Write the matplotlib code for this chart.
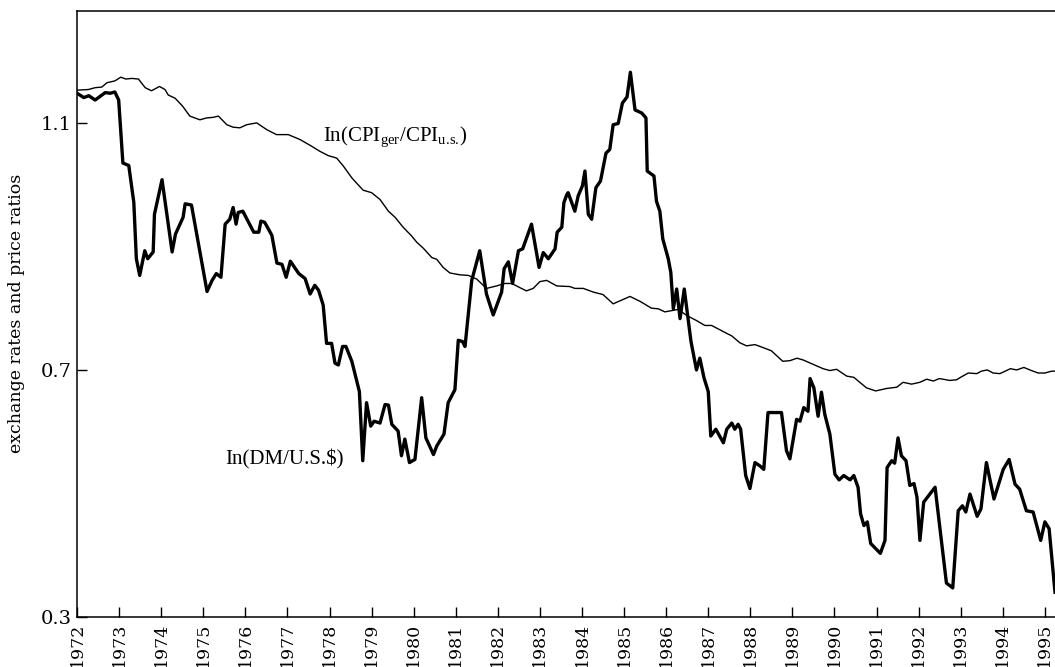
# log exchange rate DM/US$ vs log CPI ratio, 1972-1995
import matplotlib
matplotlib.use("Agg")
from matplotlib import pyplot as plt

# ln(DM/U.S.$) (decimal year, value)
dm_years = [1972.00, 1972.16, 1972.28, 1972.43, 1972.67, 1972.79, 1972.90, 1972.99,
            1973.09, 1973.23, 1973.35, 1973.41, 1973.49, 1973.61, 1973.68, 1973.81,
            1973.84, 1974.02, 1974.26, 1974.34, 1974.52, 1974.57, 1974.72, 1975.09,
            1975.21, 1975.31, 1975.42, 1975.52, 1975.63, 1975.71, 1975.78, 1975.83,
            1975.94, 1976.20, 1976.32, 1976.37, 1976.46, 1976.63, 1976.75, 1976.87,
            1976.97, 1977.07, 1977.27, 1977.42, 1977.54, 1977.65, 1977.74, 1977.85,
            1977.93, 1978.05, 1978.13, 1978.21, 1978.31, 1978.39, 1978.53, 1978.63,
            1978.71, 1978.79, 1978.88, 1978.98, 1979.06, 1979.20, 1979.32, 1979.40,
            1979.48, 1979.63, 1979.71, 1979.79, 1979.90, 1980.03, 1980.19, 1980.29,
            1980.47, 1980.55, 1980.72, 1980.82, 1980.98, 1981.06, 1981.16, 1981.22,
            1981.38, 1981.57, 1981.73, 1981.89, 1982.09, 1982.15, 1982.25, 1982.35,
            1982.49, 1982.59, 1982.80, 1982.98, 1983.08, 1983.20, 1983.36, 1983.41,
            1983.52, 1983.57, 1983.64, 1983.67, 1983.83, 1983.91, 1984.01, 1984.07,
            1984.15, 1984.23, 1984.33, 1984.44, 1984.57, 1984.66, 1984.74, 1984.86,
            1984.96, 1985.07, 1985.15, 1985.26, 1985.42, 1985.52, 1985.55, 1985.71,
            1985.77, 1985.85, 1985.92, 1986.05, 1986.11, 1986.17, 1986.25, 1986.33,
            1986.43, 1986.50, 1986.59, 1986.72, 1986.80, 1986.90, 1987.00, 1987.06,
            1987.18, 1987.36, 1987.44, 1987.56, 1987.63, 1987.71, 1987.77, 1987.89,
            1987.99, 1988.11, 1988.22, 1988.32, 1988.42, 1988.74, 1988.86, 1988.94,
            1989.10, 1989.18, 1989.27, 1989.37, 1989.42, 1989.51, 1989.61, 1989.69,
            1989.77, 1989.89, 1990.01, 1990.11, 1990.22, 1990.37, 1990.46, 1990.56,
            1990.62, 1990.70, 1990.78, 1990.86, 1991.09, 1991.20, 1991.25, 1991.36,
            1991.43, 1991.51, 1991.59, 1991.70, 1991.79, 1991.89, 1991.96, 1992.03,
            1992.12, 1992.39, 1992.66, 1992.81, 1992.94, 1993.04, 1993.12, 1993.22,
            1993.39, 1993.48, 1993.61, 1993.79, 1994.01, 1994.15, 1994.29, 1994.40,
            1994.56, 1994.72, 1994.90, 1995.00, 1995.10, 1995.24]
dm_values = [1.148, 1.141, 1.144, 1.137, 1.149, 1.148, 1.150, 1.137,
             1.035, 1.031, 0.971, 0.880, 0.853, 0.893, 0.880, 0.891,
             0.952, 1.008, 0.891, 0.920, 0.947, 0.969, 0.967, 0.827,
             0.845, 0.856, 0.850, 0.936, 0.944, 0.963, 0.936, 0.955,
             0.957, 0.923, 0.923, 0.941, 0.939, 0.918, 0.873, 0.871,
             0.850, 0.876, 0.856, 0.848, 0.823, 0.837, 0.829, 0.805,
             0.743, 0.743, 0.711, 0.708, 0.738, 0.738, 0.714, 0.687,
             0.665, 0.553, 0.647, 0.609, 0.617, 0.614, 0.644, 0.643,
             0.612, 0.601, 0.561, 0.588, 0.550, 0.555, 0.655, 0.590,
             0.563, 0.577, 0.596, 0.647, 0.668, 0.748, 0.746, 0.738,
             0.845, 0.893, 0.823, 0.789, 0.826, 0.864, 0.875, 0.840,
             0.893, 0.896, 0.936, 0.866, 0.890, 0.880, 0.896, 0.923,
             0.931, 0.971, 0.984, 0.987, 0.957, 0.982, 0.998, 1.022,
             0.952, 0.944, 0.995, 1.006, 1.051, 1.057, 1.097, 1.099,
             1.132, 1.142, 1.182, 1.121, 1.116, 1.108, 1.022, 1.014,
             0.973, 0.957, 0.912, 0.880, 0.858, 0.799, 0.831, 0.783,
             0.831, 0.794, 0.746, 0.700, 0.719, 0.687, 0.665, 0.593,
             0.604, 0.582, 0.604, 0.614, 0.604, 0.612, 0.604, 0.529,
             0.508, 0.550, 0.545, 0.539, 0.631, 0.631, 0.569, 0.556,
             0.620, 0.617, 0.639, 0.633, 0.686, 0.671, 0.625, 0.664,
             0.628, 0.596, 0.531, 0.522, 0.529, 0.522, 0.529, 0.510,
             0.467, 0.448, 0.454, 0.419, 0.403, 0.424, 0.542, 0.553,
             0.549, 0.590, 0.561, 0.553, 0.513, 0.516, 0.494, 0.424,
             0.486, 0.510, 0.355, 0.347, 0.472, 0.480, 0.470, 0.499,
             0.463, 0.475, 0.550, 0.491, 0.539, 0.555, 0.515, 0.507,
             0.472, 0.470, 0.424, 0.454, 0.443, 0.340]

# ln(CPI_ger / CPI_us)
cpi_years = [1972.01, 1972.27, 1972.43, 1972.59, 1972.71, 1972.90, 1973.04, 1973.16,
             1973.30, 1973.46, 1973.62, 1973.77, 1973.96, 1974.09, 1974.17, 1974.33,
             1974.51, 1974.68, 1974.92, 1975.08, 1975.24, 1975.36, 1975.56, 1975.71,
             1975.87, 1976.03, 1976.27, 1976.51, 1976.74, 1977.02, 1977.30, 1977.58,
             1977.77, 1977.97, 1978.17, 1978.33, 1978.53, 1978.65, 1978.80, 1979.00,
             1979.20, 1979.40, 1979.56, 1979.75, 1979.95, 1980.07, 1980.23, 1980.43,
             1980.55, 1980.70, 1980.86, 1981.10, 1981.30, 1981.50, 1981.73, 1981.97,
             1982.17, 1982.33, 1982.53, 1982.68, 1982.84, 1983.00, 1983.16, 1983.40,
             1983.71, 1983.83, 1984.03, 1984.27, 1984.50, 1984.74, 1984.94, 1985.14,
             1985.38, 1985.65, 1985.81, 1985.97, 1986.13, 1986.29, 1986.49, 1986.72,
             1986.92, 1987.08, 1987.36, 1987.56, 1987.75, 1987.91, 1988.11, 1988.31,
             1988.50, 1988.77, 1988.94, 1989.11, 1989.26, 1989.46, 1989.73, 1989.89,
             1990.05, 1990.29, 1990.46, 1990.60, 1990.76, 1990.98, 1991.24, 1991.48,
             1991.63, 1991.83, 1992.03, 1992.19, 1992.35, 1992.49, 1992.74, 1992.90,
             1993.02, 1993.18, 1993.38, 1993.49, 1993.63, 1993.77, 1993.93, 1994.18,
             1994.33, 1994.50, 1994.68, 1994.84, 1995.00, 1995.16, 1995.24]
cpi_values = [1.153, 1.154, 1.157, 1.158, 1.165, 1.168, 1.174, 1.171,
              1.172, 1.171, 1.157, 1.152, 1.159, 1.154, 1.145, 1.140,
              1.127, 1.111, 1.105, 1.108, 1.109, 1.111, 1.097, 1.093,
              1.092, 1.097, 1.100, 1.089, 1.081, 1.081, 1.073, 1.062,
              1.054, 1.047, 1.043, 1.030, 1.011, 1.002, 0.991, 0.987,
              0.976, 0.957, 0.947, 0.931, 0.917, 0.907, 0.897, 0.882,
              0.879, 0.866, 0.857, 0.854, 0.853, 0.847, 0.832, 0.836,
              0.840, 0.840, 0.833, 0.828, 0.832, 0.843, 0.845, 0.836,
              0.835, 0.832, 0.832, 0.826, 0.822, 0.807, 0.813, 0.819,
              0.811, 0.800, 0.799, 0.794, 0.796, 0.798, 0.788, 0.780,
              0.772, 0.772, 0.762, 0.755, 0.744, 0.739, 0.741, 0.736,
              0.731, 0.714, 0.715, 0.719, 0.716, 0.710, 0.702, 0.699,
              0.701, 0.690, 0.688, 0.680, 0.671, 0.666, 0.670, 0.672,
              0.680, 0.677, 0.680, 0.685, 0.682, 0.686, 0.683, 0.684,
              0.689, 0.695, 0.694, 0.698, 0.700, 0.695, 0.694, 0.702,
              0.700, 0.704, 0.699, 0.695, 0.695, 0.698, 0.698]

tick_years = list(range(1972, 1996))
y_ticks = [0.3, 0.7, 1.1]
y_tick_labels = ["0.3", "0.7", "1.1"]

tick_font = "DejaVu Serif"
label_font = "Liberation Serif"


def plot():
    plt.rcParams['mathtext.fontset'] = 'custom'
    plt.rcParams['mathtext.rm'] = label_font

    fig = plt.figure(figsize=(10.55, 6.67), dpi=100)
    ax = fig.add_axes([0.073, 0.075, 0.927, 0.908])

    ax.plot(cpi_years, cpi_values, color='black', linewidth=1.0)
    ax.plot(dm_years, dm_values, color='black', linewidth=2.4)

    ax.set_xlim(1972, 1995.24)
    ax.set_ylim(0.3, 1.2806)

    ax.set_xticks(tick_years)
    ax.set_xticklabels([str(y) for y in tick_years], rotation=90,
                       fontsize=12.5, family=tick_font, va='top')
    ax.set_yticks(y_ticks)
    ax.set_yticklabels(y_tick_labels, fontsize=14, family=tick_font)
    ax.tick_params(axis='both', direction='in', length=7.5, width=1.0)
    ax.tick_params(axis='x', pad=4)
    ax.tick_params(axis='y', pad=4)

    for side in ['left', 'bottom', 'top']:
        ax.spines[side].set_linewidth(1.1)
    ax.spines['right'].set_visible(False)

    # \! cancels the thin space mathtext puts after each dot
    ax.text(1977.84, 1.0757, r"In(CPI$_{\rm ger}$/CPI$_{\rm u.\!s.\!}$)",
            fontsize=15, family=label_font, ha='left', va='center')
    ax.text(1975.52, 0.555, "In(DM/U.S.$)", fontsize=15, family=label_font,
            ha='left', va='center')

    fig.text(17 / 1055, 1 - 313 / 667, "exchange rates and price ratios",
             rotation=90, ha='center', va='center', fontsize=12.5, family=tick_font)

    fig.savefig("out.png", dpi=100)


if __name__ == "__main__":
    plot()
